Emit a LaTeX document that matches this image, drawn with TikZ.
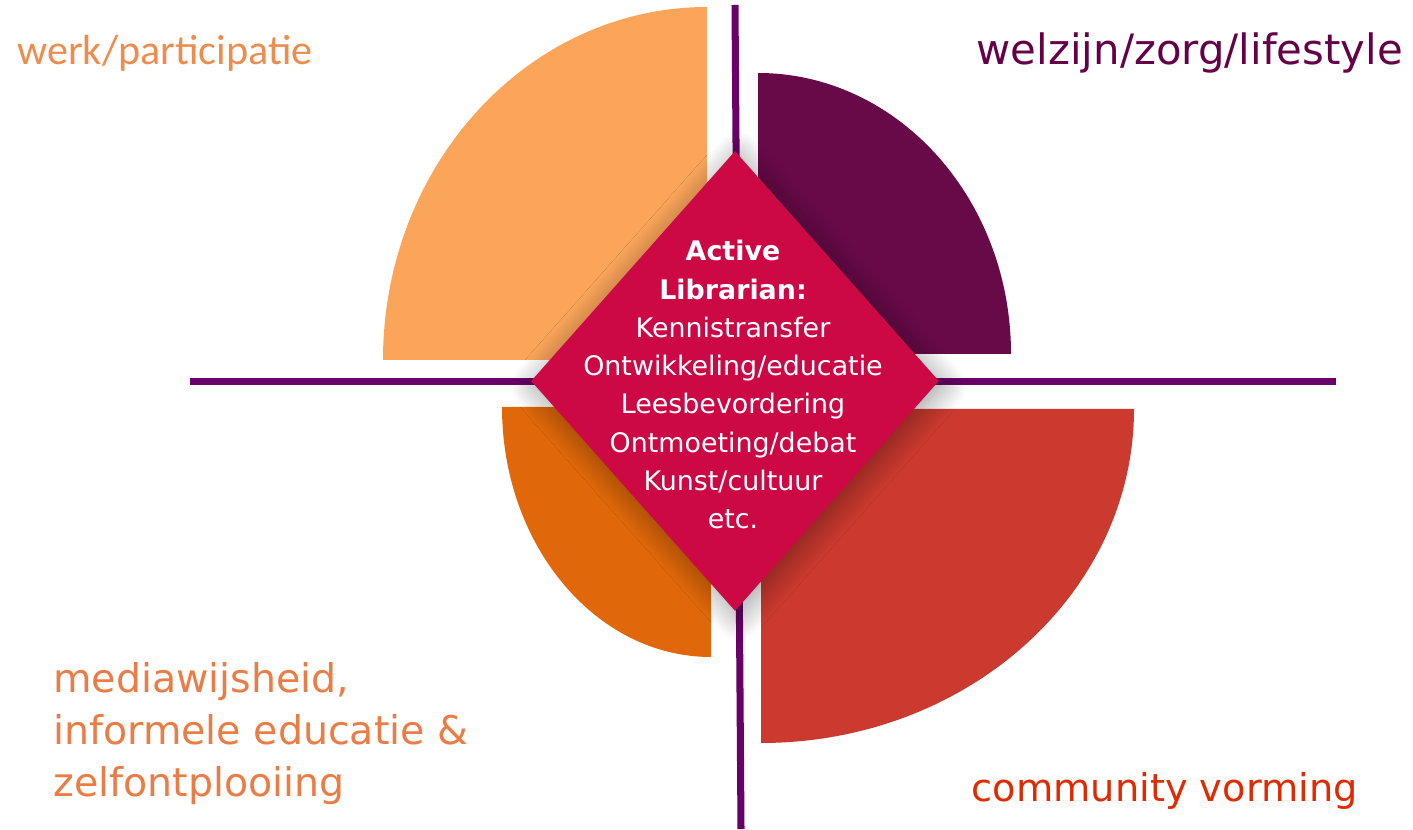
\documentclass[tikz,border=0pt]{standalone}
\usepackage{fontspec}
\usepackage{xcolor}
\usepackage{tikz}
\usetikzlibrary{shapes.geometric,shadows.blur}
\setmainfont{DejaVu Sans}
\newfontfamily\lightfont{Carlito}
\definecolor{werkC}{HTML}{FBA55A}
\definecolor{welzijnC}{HTML}{680A48}
\definecolor{mediaC}{HTML}{E0680A}
\definecolor{communityC}{HTML}{CC3A2F}
\definecolor{kernC}{HTML}{CC0845}
\definecolor{asC}{HTML}{690068}
\definecolor{werkT}{HTML}{EE8C4E}
\definecolor{welzijnT}{HTML}{650048}
\definecolor{mediaT}{HTML}{EC7C45}
\definecolor{communityT}{HTML}{E02A00}

\begin{document}
\begin{tikzpicture}[x=0.02cm, y=0.02cm,
    as/.style={asC, line width=4pt},
    label/.style={inner sep=0, font=\fontsize{22.5}{29.5}\selectfont, align=left}]
        \useasboundingbox (0, 0) rectangle (1413, 829);

        \draw[as] (190, 447.5) -- (1336, 447.5);
        \draw[as] (735, 824) -- (741, 0);

        \fill[werkC] (707, 469) -- ++(0, 353) arc[start angle=90, end angle=180, x radius=324, y radius=353] -- cycle;
        \fill[welzijnC] (758, 475) -- ++(253, 0) arc[start angle=0, end angle=90, x radius=253, y radius=281] -- cycle;
        \fill[mediaC] (711, 422) -- ++(-209, 0) arc[start angle=180, end angle=270, x radius=209, y radius=250] -- cycle;
        \fill[communityC] (761, 420) -- ++(0, -334) arc[start angle=270, end angle=360, x radius=373, y radius=334] -- cycle;

        \node[diamond, fill=kernC, minimum width=8.16cm, minimum height=9.2cm, inner sep=0,
              blur shadow={shadow xshift=2pt, shadow yshift=-3pt, shadow blur radius=14pt, shadow blur steps=20, shadow opacity=40}] (kern) at (735, 448) {};
        \node[anchor=north, inner sep=0, white, align=center, font=\fontsize{15.3}{21.8}\selectfont] (librarian) at (733, 589)
            {\textbf{Active}\\ \textbf{Librarian:}\\ Kennistransfer\\ Ontwikkeling/educatie\\ Leesbevordering\\ Ontmoeting/debat\\ Kunst/cultuur\\ etc.};

        \node[label, anchor=base west, werkT, font=\lightfont\fontsize{24}{28}\selectfont] (werk) at (17, 764) {werk/participatie};
        \node[label, anchor=base east, welzijnT, font=\fontsize{23.8}{28}\selectfont] (welzijn) at (1403, 764) {welzijn/zorg/lifestyle};
        \node[label, anchor=north west, mediaT] (media) at (53, 167) {mediawijsheid,\\ informele educatie \&\\ zelfontplooiing};
        \node[label, anchor=base east, communityT, font=\fontsize{21.8}{28}\selectfont] (community) at (1358, 28) {community vorming};
\end{tikzpicture}
\end{document}
